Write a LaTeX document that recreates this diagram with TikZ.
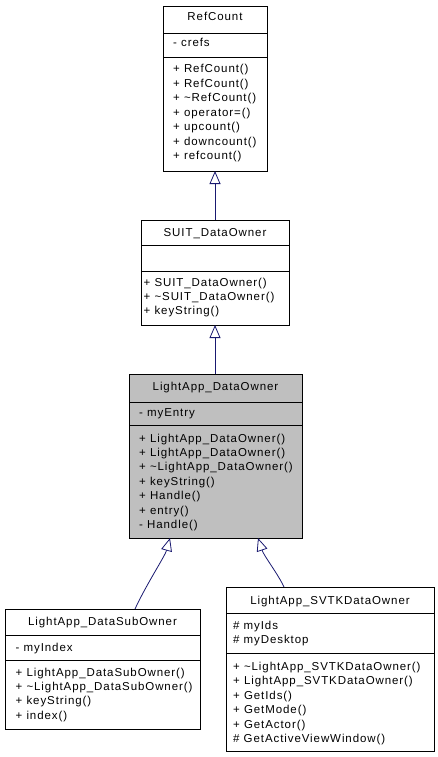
\documentclass[tikz,border=0pt]{standalone}
\usepackage{fontspec}
\setmainfont{Liberation Sans}[LetterSpace=8]
\usetikzlibrary{arrows.meta}
\definecolor{edgeblue}{HTML}{191970}
\definecolor{boxgray}{HTML}{BFBFBF}
\begin{document}
\begin{tikzpicture}[x=1pt,y=-1pt,
  box/.style={draw=black,line width=0.9pt,anchor=north west,inner sep=0pt,outer sep=0pt},
  sep/.style={draw=black,line width=0.9pt},
  mem/.style={anchor=base west,inner sep=0pt,font=\fontsize{11.5}{13}\selectfont},
  ttl/.style={anchor=base,inner sep=0pt,font=\fontsize{11.5}{13}\selectfont},
  inh/.style={draw=edgeblue,line width=0.8pt,{Triangle[open,length=13pt,width=11pt,fill=white]}-}]
\useasboundingbox (0,0) rectangle (437,757);

% RefCount
\node[box,minimum width=104pt,minimum height=165pt] (rc) at (163,6) {};
\draw[sep] ([yshift=-27pt]rc.north west) -- ([yshift=-27pt]rc.north east);
\draw[sep] ([yshift=-51pt]rc.north west) -- ([yshift=-51pt]rc.north east);
\node[ttl] (rct) at (215,21) {RefCount};
\node[mem] (rca1) at (173,47) {- crefs};
\node[mem] (rcm1) at (173,73) {+ RefCount()};
\node[mem] (rcm2) at (173,87.4) {+ RefCount()};
\node[mem] (rcm3) at (173,101.8) {+ \char`\~RefCount()};
\node[mem] (rcm4) at (173,116.2) {+ operator=()};
\node[mem] (rcm5) at (173,130.6) {+ upcount()};
\node[mem] (rcm6) at (173,145) {+ downcount()};
\node[mem] (rcm7) at (173,159.4) {+ refcount()};

% SUIT_DataOwner
\node[box,minimum width=148pt,minimum height=105pt] (su) at (141,220) {};
\draw[sep] ([yshift=-25pt]su.north west) -- ([yshift=-25pt]su.north east);
\draw[sep] ([yshift=-51pt]su.north west) -- ([yshift=-51pt]su.north east);
\node[ttl] (sut) at (215,236) {SUIT\_DataOwner};
\node[mem] (sum1) at (143.5,286) {+ SUIT\_DataOwner()};
\node[mem] (sum2) at (143.5,300.4) {+ \char`\~SUIT\_DataOwner()};
\node[mem] (sum3) at (143.5,314.8) {+ keyString()};

% LightApp_DataOwner
\node[box,fill=boxgray,minimum width=173pt,minimum height=164pt] (ld) at (129,374) {};
\draw[sep] ([yshift=-28pt]ld.north west) -- ([yshift=-28pt]ld.north east);
\draw[sep] ([yshift=-51pt]ld.north west) -- ([yshift=-51pt]ld.north east);
\node[ttl] (ldt) at (215.5,390) {LightApp\_DataOwner};
\node[mem] (lda1) at (139,416) {- myEntry};
\node[mem] (ldm1) at (139,442) {+ LightApp\_DataOwner()};
\node[mem] (ldm2) at (139,456.4) {+ LightApp\_DataOwner()};
\node[mem] (ldm3) at (139,470.8) {+ \char`\~LightApp\_DataOwner()};
\node[mem] (ldm4) at (139,485.2) {+ keyString()};
\node[mem] (ldm5) at (139,499.6) {+ Handle()};
\node[mem] (ldm6) at (139,514) {+ entry()};
\node[mem] (ldm7) at (139,528.4) {- Handle()};

% LightApp_DataSubOwner
\node[box,minimum width=195pt,minimum height=120pt] (ls) at (5,609) {};
\draw[sep] ([yshift=-26pt]ls.north west) -- ([yshift=-26pt]ls.north east);
\draw[sep] ([yshift=-51pt]ls.north west) -- ([yshift=-51pt]ls.north east);
\node[ttl] (lst) at (102.5,625) {LightApp\_DataSubOwner};
\node[mem] (lsa1) at (15.5,651) {- myIndex};
\node[mem] (lsm1) at (15.5,676) {+ LightApp\_DataSubOwner()};
\node[mem] (lsm2) at (15.5,690.4) {+ \char`\~LightApp\_DataSubOwner()};
\node[mem] (lsm3) at (15.5,704.8) {+ keyString()};
\node[mem] (lsm4) at (15.5,719.2) {+ index()};

% LightApp_SVTKDataOwner
\node[box,minimum width=208pt,minimum height=164pt] (lv) at (226,587) {};
\draw[sep] ([yshift=-26pt]lv.north west) -- ([yshift=-26pt]lv.north east);
\draw[sep] ([yshift=-66pt]lv.north west) -- ([yshift=-66pt]lv.north east);
\node[ttl] (lvt) at (330,604) {LightApp\_SVTKDataOwner};
\node[mem] (lva1) at (233,629) {\# myIds};
\node[mem] (lva2) at (233,643) {\# myDesktop};
\node[mem] (lvm1) at (233,670) {+ \char`\~LightApp\_SVTKDataOwner()};
\node[mem] (lvm2) at (233,684.5) {+ LightApp\_SVTKDataOwner()};
\node[mem] (lvm3) at (233,699) {+ GetIds()};
\node[mem] (lvm4) at (233,713.5) {+ GetMode()};
\node[mem] (lvm5) at (233,728) {+ GetActor()};
\node[mem] (lvm6) at (233,742.5) {\# GetActiveViewWindow()};

% connectors
\coordinate (ldS1) at (170,538);
\coordinate (ldS2) at (258,538);
\coordinate (lsN) at (135,609);
\coordinate (lvN) at (284,587);
\draw[inh] (rc.south) -- (su.north);
\draw[inh] (su.south) -- (su.south |- ld.north);
\draw[inh] (ldS1) .. controls (165,556) and (146,585) .. (lsN);
\draw[inh] (ldS2) .. controls (264,556) and (278,574) .. (lvN);
\end{tikzpicture}
\end{document}
